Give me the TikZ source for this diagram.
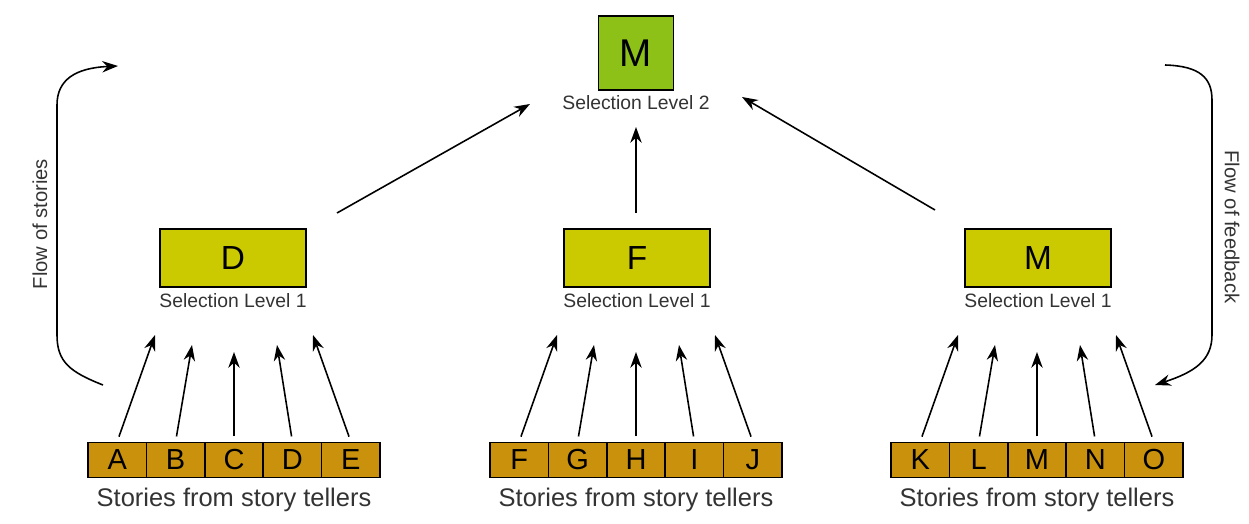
\documentclass[tikz,border=0pt]{standalone}
\usepackage{fontspec}
\setmainfont{Liberation Sans}
\usetikzlibrary{positioning,calc,arrows.meta}

\definecolor{topgreen}{RGB}{141,193,24}
\definecolor{selyellow}{RGB}{203,202,0}
\definecolor{storygold}{RGB}{201,145,12}

\begin{document}
\begin{tikzpicture}[x=0.02cm, y=-0.02cm,
	every node/.style={align=center, inner sep=1pt},
	topbox/.style={draw, line width=1pt, fill=topgreen, minimum width=1.5cm, minimum height=1.48cm, font=\fontsize{22}{24}\selectfont},
	selbox/.style={draw, line width=1pt, fill=selyellow, minimum width=2.92cm, minimum height=1.16cm, font=\fontsize{19}{22}\selectfont},
	cell/.style={draw, line width=1pt, fill=storygold, minimum width=1.168cm, minimum height=0.7cm, inner sep=0pt, font=\fontsize{16.5}{18}\selectfont},
	lbl/.style={font=\fontsize{11}{13}\selectfont, text=black!80},
	storylbl/.style={font=\fontsize{14.5}{16}\selectfont, text=black!80},
	flowlbl/.style={font=\fontsize{11.5}{13}\selectfont, text=black!80},
	arr/.style={->, >={Stealth[length=9pt,width=6.5pt]}, line width=0.9pt}]
	\useasboundingbox (0,0) rectangle (1249,524);

	\node[topbox] (top) at (636, 53) {M};
	\node[lbl] (toplbl) at (636, 103) {Selection Level 2};

	\node[selbox] (sel1) at (233, 258) {D};
	\node[selbox] (sel2) at (637, 258) {F};
	\node[selbox] (sel3) at (1038, 258) {M};
	\node[lbl] (sellbl1) at (233, 301) {Selection Level 1};
	\node[lbl] (sellbl2) at (637, 301) {Selection Level 1};
	\node[lbl] (sellbl3) at (1038, 301) {Selection Level 1};

	\foreach \g/\cx/\ls in {1/234/{A,B,C,D,E}, 2/636/{F,G,H,I,J}, 3/1037/{K,L,M,N,O}} {
		\foreach \l [count=\i] in \ls
			\node[cell] (c\g-\i) at ({\cx+(\i-3)*58.4}, 460) {\l};
		\node[storylbl] (stories\g) at (\cx, 500) {Stories from story tellers};
		\foreach \dx/\ey [count=\i] in {-79/335, -42/345, 0/352, 43/345, 79/335} {
			\coordinate (h\g-\i) at ({\cx+\dx}, \ey);
			\draw[arr, shorten <=3pt] (c\g-\i.north) -- (h\g-\i);
		}
	}

	\coordinate (up1) at (337, 213);
	\coordinate (up2) at (636, 213);
	\coordinate (up3) at (935, 210);
	\coordinate (in1) at (530, 104);
	\coordinate (in2) at (636, 127);
	\coordinate (in3) at (742, 97);
	\draw[arr] (up1) -- (in1);
	\draw[arr] (up2) -- (in2);
	\draw[arr] (up3) -- (in3);

	\coordinate (fsA) at (103, 385);
	\coordinate (fsB) at (118, 66);
	\draw[arr] (fsA) .. controls (70, 372) and (57, 362) .. (57, 335) -- (57, 105) .. controls (57, 80) and (75, 68) .. (fsB);
	\node[flowlbl, rotate=90] (flowstories) at (40, 224) {Flow of stories};

	\coordinate (fbA) at (1165, 65);
	\coordinate (fbB) at (1155, 385);
	\draw[arr] (fbA) .. controls (1200, 66) and (1212, 78) .. (1212, 100) -- (1212, 335) .. controls (1212, 360) and (1195, 372) .. (fbB);
	\node[flowlbl, rotate=-90] (flowfeedback) at (1232, 227) {Flow of feedback};
\end{tikzpicture}
\end{document}
